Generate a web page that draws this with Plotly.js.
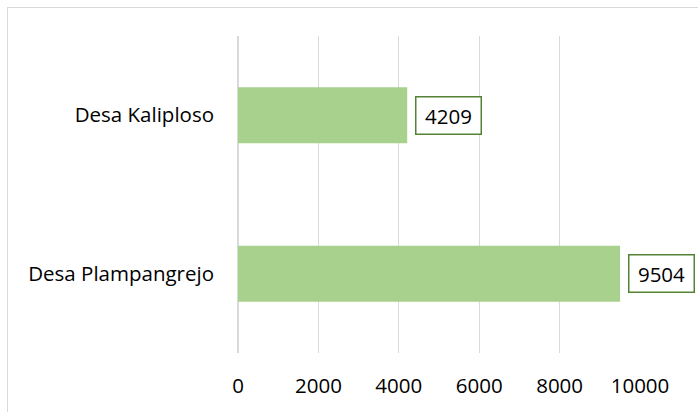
<!DOCTYPE html>
<html>
<head>
<meta charset="utf-8">
<script src="https://cdn.plot.ly/plotly-3.0.1.min.js"></script>
<style>
  html, body { margin:0; padding:0; background:#fff; }
  #wrap { position:relative; width:698px; height:412px; overflow:hidden; }
  #chart { width:698px; height:412px; }
  #frame { position:absolute; left:7px; top:7px; width:800px; height:600px; border:1px solid #d9d9d9; pointer-events:none; }
</style>
</head>
<body>
<div id="wrap"><div id="chart"></div><div id="frame"></div></div>
<script>
const categories = ['Desa Plampangrejo', 'Desa Kaliploso'];
const values = [9504, 4209];
const xTicks = [0, 2000, 4000, 6000, 8000, 10000];

const font = "Open Sans, Noto Sans, sans-serif";
const fsize = 20.5;

const trace = {
  type: 'bar',
  orientation: 'h',
  y: categories,
  x: values,
  marker: { color: '#a9d18e' },
  hoverinfo: 'none'
};

const annotations = values.map((v, i) => ({
  x: v, y: categories[i], xref: 'x', yref: 'y',
  text: String(v), showarrow: false,
  xanchor: 'left', yanchor: 'middle', xshift: 8,
  width: 56, height: 28, align: 'center', valign: 'middle',
  font: { family: font, size: fsize, color: '#000' },
  bgcolor: '#fff', bordercolor: '#548235', borderwidth: 1.5, borderpad: 4
}));

const layout = {
  width: 698, height: 412,
  margin: { l: 238, r: 58, t: 36, b: 59 },
  paper_bgcolor: '#fff', plot_bgcolor: '#fff',
  showlegend: false,
  bargap: 0.647,
  xaxis: {
    range: [0, 10000],
    tickvals: xTicks,
    ticktext: xTicks.map(String),
    showgrid: true, gridcolor: '#d9d9d9', gridwidth: 1.3,
    zeroline: true, zerolinecolor: '#d9d9d9', zerolinewidth: 1.3,
    showline: false, ticks: '',
    ticklabelstandoff: 18,
    tickfont: { family: font, size: fsize, color: '#000' },
    fixedrange: true
  },
  yaxis: {
    type: 'category',
    categoryorder: 'array', categoryarray: categories,
    showgrid: false, zeroline: false, showline: false, ticks: '',
    ticklabelstandoff: 23,
    tickfont: { family: font, size: fsize, color: '#000' },
    fixedrange: true
  },
  annotations: annotations
};

Plotly.newPlot('chart', [trace], layout, { displayModeBar: false, staticPlot: true });
</script>
</body>
</html>
